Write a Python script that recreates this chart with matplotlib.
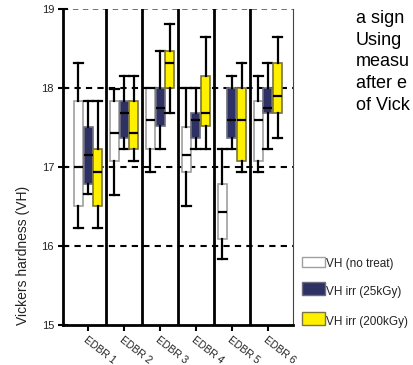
import matplotlib
matplotlib.use("Agg")
import matplotlib.pyplot as plt
from matplotlib.patches import Rectangle

plt.rcParams['font.family'] = ['Liberation Sans', 'DejaVu Sans']

# groups and series
groups = ["EDBR 1", "EDBR 2", "EDBR 3", "EDBR 4", "EDBR 5", "EDBR 6"]
series = ["VH (no treat)", "VH irr (25kGy)", "VH irr (200kGy)"]

# box statistics (one list per series, one value per group)
whislo = [
    [16.23, 16.65, 16.94, 16.51, 15.84, 16.94],
    [16.66, 17.23, 17.23, 17.23, 17.23, 17.23],
    [16.23, 17.08, 17.68, 17.23, 16.94, 17.37],
]
q1 = [
    [16.51, 17.08, 17.23, 16.94, 16.09, 17.08],
    [16.78, 17.37, 17.52, 17.37, 17.37, 17.68],
    [16.51, 17.23, 18.00, 17.52, 17.08, 17.68],
]
med = [
    [17.00, 17.43, 17.60, 17.15, 16.43, 17.60],
    [17.15, 17.68, 17.75, 17.60, 17.60, 17.75],
    [16.94, 17.43, 18.32, 17.68, 17.60, 17.90],
]
q3 = [
    [17.83, 17.83, 18.00, 17.51, 16.78, 17.83],
    [17.51, 17.83, 18.00, 17.68, 18.00, 18.00],
    [17.23, 17.83, 18.47, 18.15, 18.00, 18.32],
]
whishi = [
    [18.32, 17.99, 18.00, 18.00, 17.23, 18.15],
    [17.83, 18.15, 18.47, 18.00, 18.15, 18.32],
    [17.83, 18.15, 18.81, 18.65, 18.32, 18.65],
]

yticks = [15, 16, 17, 18, 19]

fills = ["white", "#2e3163", "#fff000"]
edges = ["#a0a0a0", "#6e6e80", "#7a7440"]
offsets = [-0.27, 0.0, 0.27]

fig = plt.figure(figsize=(4.14, 3.65), dpi=100)
ax = fig.add_axes([63 / 414, 1 - 325 / 365, 230 / 414, 316 / 365])

# dashed reference lines
for y in yticks[1:-1]:
    ax.axhline(y, color="black", lw=1.5, ls=(0, (3, 2.5)), zorder=1)
ax.axhline(yticks[-1], color="#666666", lw=1.3, ls=(0, (3, 2.5)), zorder=1)

# group separators
for i in range(len(groups) - 1):
    ax.axvline(i + 0.5, color="black", lw=2, zorder=1)

for s in range(len(series)):
    stats = []
    for g in range(len(groups)):
        stats.append(dict(med=med[s][g], q1=q1[s][g], q3=q3[s][g],
                          whislo=whislo[s][g], whishi=whishi[s][g], fliers=[]))
    pos = [g + offsets[s] for g in range(len(groups))]
    ax.bxp(stats, positions=pos, widths=0.25, capwidths=0.25,
           patch_artist=True, showfliers=False, manage_ticks=False,
           boxprops=dict(facecolor=fills[s], edgecolor=edges[s], lw=1.2),
           whiskerprops=dict(color="black", lw=1.6),
           capprops=dict(color="black", lw=1.6),
           medianprops=dict(color="black", lw=1.6),
           zorder=3)

ax.set_xlim(-0.7, len(groups) - 0.3)
ax.set_ylim(yticks[0], yticks[-1])
ax.set_yticks(yticks)
ax.set_yticklabels([str(v) for v in yticks], fontsize=8, color="#222222")
ax.tick_params(axis="y", direction="inout", length=7, width=1.5, pad=3)
ax.set_xticks(range(len(groups)))
ax.set_xticklabels(groups, fontsize=7.5, rotation=-38, ha="left", va="top",
                   rotation_mode="anchor", color="#222222")
ax.tick_params(axis="x", direction="out", length=4, width=1.5, pad=3)

ax.spines["top"].set_visible(False)
ax.spines["right"].set_color("#444444")
ax.spines["right"].set_linewidth(0.8)
ax.spines["left"].set_linewidth(2)
ax.spines["bottom"].set_linewidth(2)

fig.text(23 / 414, 1 - 255 / 365, "Vickers hardness (VH)", rotation=90,
         ha="center", va="center", fontsize=10, color="#222222")

# legend drawn in pixel coordinates on an overlay
ov = fig.add_axes([0, 0, 1, 1])
ov.set_xlim(0, 414)
ov.set_ylim(365, 0)
ov.axis("off")
leg_rows = [(257, 10, 267), (282, 13, 295), (312, 13, 325)]
for s, (top, h, base) in enumerate(leg_rows):
    ov.add_patch(Rectangle((302, top), 23, h, facecolor=fills[s],
                           edgecolor=edges[s], lw=1))
    ov.text(326, base, series[s], fontsize=8.5, va="baseline", ha="left",
            color="#222222")

# fragment of surrounding document text
doc_lines = ["a sign", "Using", "measu", "after e", "of Vick"]
for k, line in enumerate(doc_lines):
    ov.text(356, 23 + 21.7 * k, line, fontsize=13, va="baseline", ha="left",
            color="black")

fig.savefig("out.png", dpi=100)
